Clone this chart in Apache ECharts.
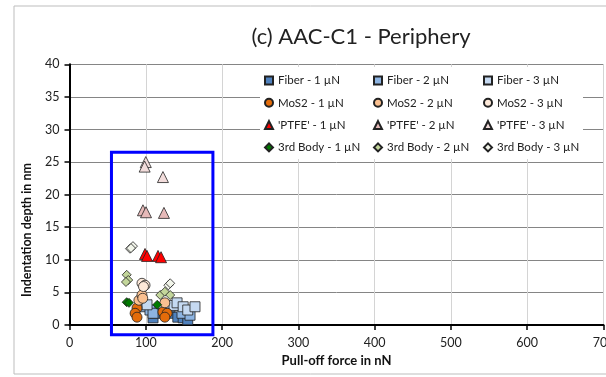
<!DOCTYPE html>
<html>
<head>
<meta charset="utf-8">
<script src="https://cdn.jsdelivr.net/npm/echarts@6/dist/echarts.min.js"></script>
<style>
html,body{margin:0;padding:0;background:#fff;}
#chart{width:606px;height:377px;}
</style>
</head>
<body>
<div id="chart"></div>
<script>
// ---- Data ----
const titleText = "(c) AAC-C1 - Periphery";
const xAxisTitle = "Pull-off force in nN";
const yAxisTitle = "Indentation depth in nm";

const fiber1 = [[109.5,1.1],[112,1.8],[131.7,1.8],[142,1.2],[149,1.1],[155,0.8]];
const fiber2 = [[99,2.8],[105.5,2.3],[109.5,1.8],[131.7,2.8],[147.5,1.8],[158,1.5]];
const fiber3 = [[101.6,3.1],[137,3.0],[141,3.4],[149,2.8],[155,2.3],[164.5,2.8]];
const mos2_1 = [[88.5,2.6],[86,1.8],[88.5,1.2],[122.5,2.0],[128,1.8],[125,1.2]];
const mos2_2 = [[91,3.8],[95,4.6],[96,4.1],[125,3.4]];
const mos2_3 = [[95,6.4],[99,6.1],[97,5.9]];
const ptfe1 = [[99,10.9],[101.6,10.6],[116,10.6],[120,10.4]];
const ptfe2 = [[96.3,17.6],[100.3,17.3],[123.8,17.2]];
const ptfe3 = [[100,25.0],[98.5,24.3],[122.5,22.7]];
const body1 = [[75,3.5],[78,3.4],[115,3.1]];
const body2 = [[75,7.7],[77,6.9],[74,6.6],[119,4.6],[125,5.1],[132,4.6]];
const body3 = [[79.3,11.7],[83.2,12.1],[80.6,11.8],[129.6,6.1],[132,6.4]];

// annotation box (data coordinates)
const boxX = [55, 188];
const boxY = [-1.5, 26.5];

const seriesNames = [
  "Fiber - 1 µN","Fiber - 2 µN","Fiber - 3 µN",
  "MoS2 - 1 µN","MoS2 - 2 µN","MoS2 - 3 µN",
  "'PTFE' - 1 µN","'PTFE' - 2 µN","'PTFE' - 3 µN",
  "3rd Body - 1 µN","3rd Body - 2 µN","3rd Body - 3 µN"
];
const seriesData = [fiber1,fiber2,fiber3,mos2_1,mos2_2,mos2_3,ptfe1,ptfe2,ptfe3,body1,body2,body3];
const seriesColors = [
  "#4f81bd","#8db4e2","#c5d9f1",
  "#e46c0a","#fac090","#fde9d9",
  "#ff0000","#e6b9b8","#f2dcdb",
  "#007a00","#c3d69b","#f2f5ea"
];
const seriesSymbols = [
  "rect","rect","rect",
  "circle","circle","circle",
  "triangle","triangle","triangle",
  "diamond","diamond","diamond"
];
const seriesSizes = [10,10,10, 10,10,10, 11,11,11, 9,9,9];

const FONT = "Lato";

const series = seriesNames.map((n,i)=>({
  name: n,
  type: 'scatter',
  data: seriesData[i],
  symbol: seriesSymbols[i],
  symbolSize: seriesSizes[i],
  itemStyle: {color: seriesColors[i], borderColor: '#222', borderWidth: 0.8, opacity: 1},
  z: 2
}));

function legendCol(items, left){
  return {
    orient: 'vertical',
    left: left, top: 74.5,
    padding: 0,
    itemWidth: 8, itemHeight: 8,
    itemGap: 10.3,
    data: items,
    textStyle: {fontFamily: FONT, fontSize: 11.5, color: '#222'},
    selectedMode: false,
    z: 10
  };
}

const baseGraphic = [
  {type: 'rect', z: -10, silent: true,
   shape: {x: 14, y: 6, width: 640, height: 368},
   style: {fill: 'none', stroke: '#bdbdbd', lineWidth: 1}},
  {type: 'rect', z: 8, silent: true,
   shape: {x: 260, y: 67, width: 323, height: 92},
   style: {fill: '#fff', stroke: 'none'}},
  {type: 'text', z: 10, silent: true, x: 27, y: 230, rotation: Math.PI/2,
   style: {text: yAxisTitle, fontFamily: FONT, fontSize: 12.5, fontWeight: 'bold',
           fill: '#111', align: 'center', verticalAlign: 'middle'}}
];

const chart = echarts.init(document.getElementById('chart'), null, {renderer:'canvas'});
chart.setOption({
  backgroundColor: '#fff',
  animation: false,
  title: {
    text: titleText, left: 356, top: 21, textAlign: 'center',
    textStyle: {fontFamily: FONT, fontSize: 22, fontWeight: 'normal', color: '#222'}
  },
  grid: {left: 69.5, right: 2.5, top: 64.3, bottom: 52, outerBoundsMode: 'none', containLabel: false},
  legend: [
    legendCol([seriesNames[0],seriesNames[3],seriesNames[6],seriesNames[9]], 264),
    legendCol([seriesNames[1],seriesNames[4],seriesNames[7],seriesNames[10]], 373),
    legendCol([seriesNames[2],seriesNames[5],seriesNames[8],seriesNames[11]], 483)
  ],
  xAxis: {
    type: 'value', min: 0, max: 700, interval: 100,
    name: xAxisTitle, nameLocation: 'middle', nameGap: 29,
    nameTextStyle: {fontFamily: FONT, fontSize: 13, fontWeight: 'bold', color: '#111'},
    axisLine: {show: true, onZero: false, lineStyle: {color: '#000', width: 2}},
    axisTick: {show: true, inside: false, length: 5, lineStyle: {color: '#000', width: 1.5}},
    axisLabel: {fontFamily: FONT, fontSize: 12.5, color: '#222', margin: 11, hideOverlap: false},
    splitLine: {show: true, lineStyle: {color: '#d4d4d4', width: 1}}
  },
  yAxis: {
    type: 'value', min: 0, max: 40, interval: 5,
    axisLine: {show: true, onZero: false, lineStyle: {color: '#000', width: 2}},
    axisTick: {show: true, inside: false, length: 5, lineStyle: {color: '#000', width: 1.5}},
    axisLabel: {fontFamily: FONT, fontSize: 12.5, color: '#222', margin: 10},
    splitLine: {show: true, lineStyle: {color: '#858585', width: 1}}
  },
  graphic: baseGraphic,
  series: series
});

// blue annotation rectangle, positioned through the chart's own scales
const p1 = chart.convertToPixel({gridIndex: 0}, [boxX[0], boxY[1]]);
const p2 = chart.convertToPixel({gridIndex: 0}, [boxX[1], boxY[0]]);
chart.setOption({
  graphic: baseGraphic.concat([{
    type: 'rect', z: 20, silent: true,
    shape: {x: p1[0], y: p1[1], width: p2[0]-p1[0], height: p2[1]-p1[1]},
    style: {fill: 'none', stroke: '#0000ff', lineWidth: 3}
  }])
});
</script>
</body>
</html>
